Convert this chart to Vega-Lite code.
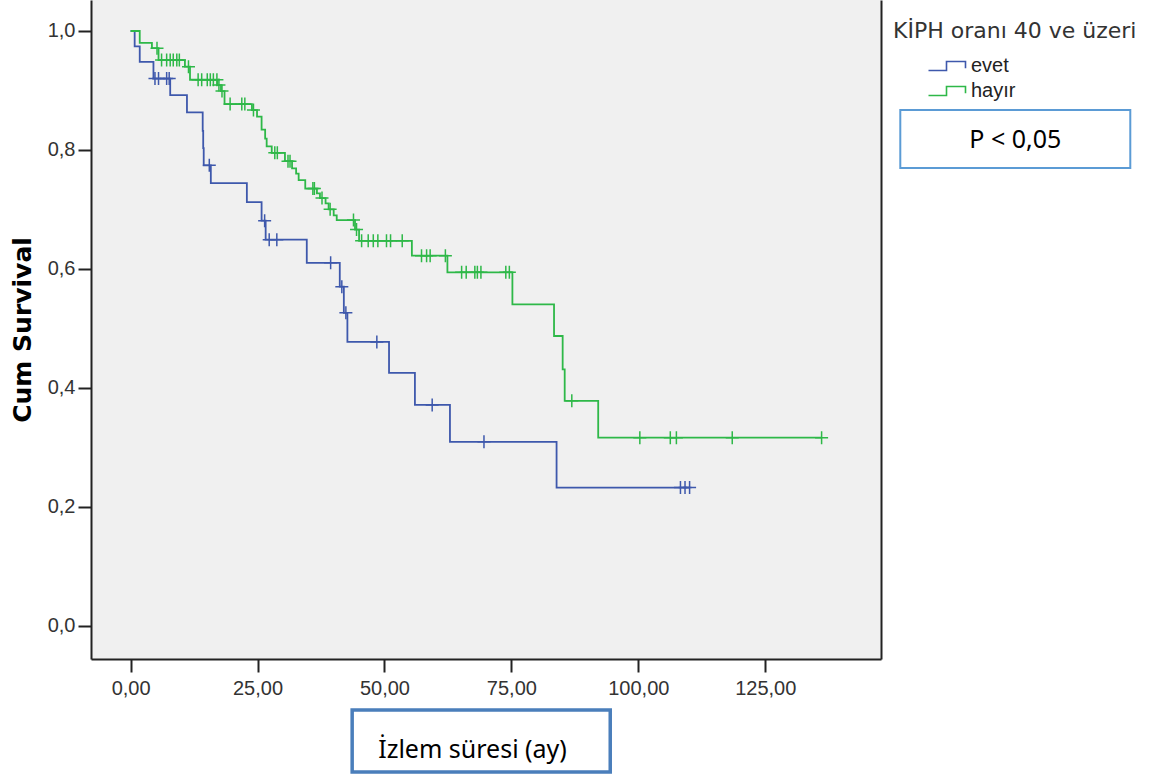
{
  "$schema": "https://vega.github.io/schema/vega-lite/v6.json",
  "autosize": "none",
  "width": 790,
  "height": 659,
  "padding": {"left": 91, "top": 0, "right": 285, "bottom": 116},
  "background": "white",
  "config": {"view": {"fill": "#f0f0f0", "stroke": null}},
  "data": {"values": [
    {"g":"evet","t":0,"s":1,"c":0},
    {"g":"evet","t":0.8,"s":0.974,"c":0},
    {"g":"evet","t":1.8,"s":0.948,"c":0},
    {"g":"evet","t":4.5,"s":0.920,"c":0},
    {"g":"evet","t":4.8,"s":0.920,"c":1},
    {"g":"evet","t":5.5,"s":0.920,"c":1},
    {"g":"evet","t":7.1,"s":0.920,"c":1},
    {"g":"evet","t":7.6,"s":0.920,"c":1},
    {"g":"evet","t":7.8,"s":0.892,"c":0},
    {"g":"evet","t":11.1,"s":0.863,"c":0},
    {"g":"evet","t":14.2,"s":0.832,"c":0},
    {"g":"evet","t":14.3,"s":0.803,"c":0},
    {"g":"evet","t":14.4,"s":0.774,"c":0},
    {"g":"evet","t":15.5,"s":0.774,"c":1},
    {"g":"evet","t":15.8,"s":0.744,"c":0},
    {"g":"evet","t":22.9,"s":0.712,"c":0},
    {"g":"evet","t":25.8,"s":0.681,"c":0},
    {"g":"evet","t":26.4,"s":0.681,"c":1},
    {"g":"evet","t":26.6,"s":0.649,"c":0},
    {"g":"evet","t":27.3,"s":0.649,"c":1},
    {"g":"evet","t":28.8,"s":0.649,"c":1},
    {"g":"evet","t":34.7,"s":0.610,"c":0},
    {"g":"evet","t":39.4,"s":0.610,"c":1},
    {"g":"evet","t":41.2,"s":0.570,"c":0},
    {"g":"evet","t":41.6,"s":0.570,"c":1},
    {"g":"evet","t":42.0,"s":0.526,"c":0},
    {"g":"evet","t":42.4,"s":0.526,"c":1},
    {"g":"evet","t":42.7,"s":0.477,"c":0},
    {"g":"evet","t":48.5,"s":0.477,"c":1},
    {"g":"evet","t":50.9,"s":0.425,"c":0},
    {"g":"evet","t":56.0,"s":0.371,"c":0},
    {"g":"evet","t":59.4,"s":0.371,"c":1},
    {"g":"evet","t":62.9,"s":0.309,"c":0},
    {"g":"evet","t":69.6,"s":0.309,"c":1},
    {"g":"evet","t":83.9,"s":0.232,"c":0},
    {"g":"evet","t":108.3,"s":0.232,"c":1},
    {"g":"evet","t":109.2,"s":0.232,"c":1},
    {"g":"evet","t":110.1,"s":0.232,"c":1},
    {"g":"hayır","t":0,"s":1,"c":0},
    {"g":"hayır","t":1.8,"s":0.980,"c":0},
    {"g":"hayır","t":4.2,"s":0.971,"c":0},
    {"g":"hayır","t":5.2,"s":0.971,"c":1},
    {"g":"hayır","t":5.5,"s":0.951,"c":0},
    {"g":"hayır","t":6.1,"s":0.951,"c":1},
    {"g":"hayır","t":7.1,"s":0.951,"c":1},
    {"g":"hayır","t":7.8,"s":0.951,"c":1},
    {"g":"hayır","t":8.4,"s":0.951,"c":1},
    {"g":"hayır","t":9.1,"s":0.951,"c":1},
    {"g":"hayır","t":9.6,"s":0.951,"c":1},
    {"g":"hayır","t":10.7,"s":0.940,"c":0},
    {"g":"hayır","t":11.4,"s":0.940,"c":1},
    {"g":"hayır","t":11.7,"s":0.918,"c":0},
    {"g":"hayır","t":13.3,"s":0.918,"c":1},
    {"g":"hayır","t":14.0,"s":0.918,"c":1},
    {"g":"hayır","t":15.1,"s":0.918,"c":1},
    {"g":"hayır","t":15.7,"s":0.918,"c":1},
    {"g":"hayır","t":16.3,"s":0.918,"c":1},
    {"g":"hayır","t":17.0,"s":0.918,"c":1},
    {"g":"hayır","t":17.1,"s":0.909,"c":0},
    {"g":"hayır","t":17.4,"s":0.909,"c":1},
    {"g":"hayır","t":17.8,"s":0.899,"c":0},
    {"g":"hayır","t":18.0,"s":0.899,"c":1},
    {"g":"hayır","t":18.5,"s":0.877,"c":0},
    {"g":"hayır","t":19.6,"s":0.877,"c":1},
    {"g":"hayır","t":21.9,"s":0.877,"c":1},
    {"g":"hayır","t":22.5,"s":0.877,"c":1},
    {"g":"hayır","t":23.9,"s":0.867,"c":0},
    {"g":"hayır","t":24.2,"s":0.867,"c":1},
    {"g":"hayır","t":24.9,"s":0.856,"c":0},
    {"g":"hayır","t":25.8,"s":0.834,"c":0},
    {"g":"hayır","t":26.5,"s":0.819,"c":0},
    {"g":"hayır","t":26.8,"s":0.806,"c":0},
    {"g":"hayır","t":27.8,"s":0.795,"c":0},
    {"g":"hayır","t":28.4,"s":0.795,"c":1},
    {"g":"hayır","t":28.9,"s":0.795,"c":1},
    {"g":"hayır","t":30.4,"s":0.781,"c":0},
    {"g":"hayır","t":31.0,"s":0.781,"c":1},
    {"g":"hayır","t":31.4,"s":0.781,"c":1},
    {"g":"hayır","t":31.8,"s":0.769,"c":0},
    {"g":"hayır","t":32.6,"s":0.760,"c":0},
    {"g":"hayır","t":33.1,"s":0.749,"c":0},
    {"g":"hayır","t":34.4,"s":0.735,"c":0},
    {"g":"hayır","t":35.9,"s":0.735,"c":1},
    {"g":"hayır","t":36.2,"s":0.735,"c":1},
    {"g":"hayır","t":36.7,"s":0.727,"c":0},
    {"g":"hayır","t":37.3,"s":0.719,"c":0},
    {"g":"hayır","t":37.7,"s":0.719,"c":1},
    {"g":"hayır","t":38.4,"s":0.710,"c":0},
    {"g":"hayır","t":39.0,"s":0.700,"c":0},
    {"g":"hayır","t":39.3,"s":0.700,"c":1},
    {"g":"hayır","t":40.0,"s":0.690,"c":0},
    {"g":"hayır","t":40.6,"s":0.682,"c":0},
    {"g":"hayır","t":43.9,"s":0.682,"c":1},
    {"g":"hayır","t":44.2,"s":0.666,"c":0},
    {"g":"hayır","t":44.5,"s":0.666,"c":1},
    {"g":"hayır","t":45.0,"s":0.647,"c":0},
    {"g":"hayır","t":45.5,"s":0.647,"c":1},
    {"g":"hayır","t":46.8,"s":0.647,"c":1},
    {"g":"hayır","t":47.8,"s":0.647,"c":1},
    {"g":"hayır","t":48.7,"s":0.647,"c":1},
    {"g":"hayır","t":50.4,"s":0.647,"c":1},
    {"g":"hayır","t":51.2,"s":0.647,"c":1},
    {"g":"hayır","t":53.5,"s":0.647,"c":1},
    {"g":"hayır","t":55.4,"s":0.622,"c":0},
    {"g":"hayır","t":57.3,"s":0.622,"c":1},
    {"g":"hayır","t":58.3,"s":0.622,"c":1},
    {"g":"hayır","t":59.0,"s":0.622,"c":1},
    {"g":"hayır","t":62.0,"s":0.622,"c":1},
    {"g":"hayır","t":62.4,"s":0.594,"c":0},
    {"g":"hayır","t":65.2,"s":0.594,"c":1},
    {"g":"hayır","t":66.1,"s":0.594,"c":1},
    {"g":"hayır","t":67.8,"s":0.594,"c":1},
    {"g":"hayır","t":68.3,"s":0.594,"c":1},
    {"g":"hayır","t":69.0,"s":0.594,"c":1},
    {"g":"hayır","t":73.9,"s":0.594,"c":1},
    {"g":"hayır","t":74.6,"s":0.594,"c":1},
    {"g":"hayır","t":75.2,"s":0.540,"c":0},
    {"g":"hayır","t":83.4,"s":0.487,"c":0},
    {"g":"hayır","t":85.1,"s":0.431,"c":0},
    {"g":"hayır","t":85.5,"s":0.378,"c":0},
    {"g":"hayır","t":86.9,"s":0.378,"c":1},
    {"g":"hayır","t":92.1,"s":0.316,"c":0},
    {"g":"hayır","t":100.3,"s":0.316,"c":1},
    {"g":"hayır","t":106.3,"s":0.316,"c":1},
    {"g":"hayır","t":107.5,"s":0.316,"c":1},
    {"g":"hayır","t":118.5,"s":0.316,"c":1},
    {"g":"hayır","t":136.1,"s":0.316,"c":1}
  ]},
  "layer": [
    {
      "mark": {"type": "line", "interpolate": "step-after", "strokeWidth": 1.8},
      "encoding": {
        "x": {"field": "t", "type": "quantitative",
          "scale": {"domain": [-7.8, 147.8], "nice": false, "zero": false},
          "axis": {"values": [0, 25, 50, 75, 100, 125],
            "labelExpr": "replace(format(datum.value, '.2f'), '.', ',')",
            "title": "İzlem süresi (ay)", "titleFont": "Noto Sans", "titleFontSize": 25,
            "titleFontWeight": "normal", "titleColor": "#000",
            "titleX": 381, "titleY": 98, "titleBaseline": "alphabetic", "titleAlign": "center",
            "labelFont": "Liberation Sans", "labelFontSize": 20, "labelColor": "#333",
            "labelPadding": 6, "labelFlush": false, "tickSize": 13, "tickWidth": 2,
            "tickColor": "#222", "domainColor": "#222", "domainWidth": 2, "grid": false, "zindex": 1}},
        "y": {"field": "s", "type": "quantitative",
          "scale": {"domain": [-0.0563, 1.0521], "nice": false, "zero": false},
          "axis": {"values": [0, 0.2, 0.4, 0.6, 0.8, 1],
            "labelExpr": "replace(format(datum.value, '.1f'), '.', ',')",
            "title": "Cum Survival", "titleFont": "DejaVu Sans", "titleFontSize": 25,
            "titleFontWeight": "bold", "titleColor": "#000", "titlePadding": 12,
            "labelFont": "Liberation Sans", "labelFontSize": 20, "labelColor": "#333",
            "labelPadding": 3, "tickSize": 13, "tickWidth": 2, "tickColor": "#222",
            "domainColor": "#222", "domainWidth": 2, "grid": false, "zindex": 1}},
        "color": {"field": "g", "type": "nominal",
          "scale": {"domain": ["evet", "hayır"], "range": ["#3E58AC", "#2EB848"]},
          "legend": {"title": "KİPH oranı 40 ve üzeri", "orient": "none",
            "legendX": 802, "legendY": 21, "padding": 0, "titleLimit": 400,
            "titleFont": "DejaVu Sans", "titleFontSize": 22, "titleFontWeight": "normal",
            "titleColor": "#333", "titlePadding": 13,
            "labelFont": "Liberation Sans", "labelFontSize": 20, "labelColor": "#222",
            "symbolType": "M-3.7,0.9H-0.1V-0.9H3.7V0.45", "symbolSize": 100,
            "symbolStrokeWidth": 1.6, "symbolOffset": 44, "labelOffset": 14, "rowPadding": 5}}
      }
    },
    {
      "transform": [{"filter": "datum.c == 1"}],
      "mark": {"type": "point", "shape": "M0,-1V1M-1,0H1", "size": 169, "filled": false, "strokeWidth": 1.5, "opacity": 1},
      "encoding": {
        "x": {"field": "t", "type": "quantitative", "scale": {"domain": [-7.8, 147.8], "nice": false, "zero": false}, "axis": null},
        "y": {"field": "s", "type": "quantitative", "scale": {"domain": [-0.0563, 1.0521], "nice": false, "zero": false},
          "axis": {"orient": "right", "labels": false, "ticks": false, "title": null, "grid": false,
            "domainColor": "#222", "domainWidth": 2}},
        "color": {"field": "g", "type": "nominal", "legend": null}
      }
    },
    {
      "data": {"values": [{"label": "P < 0,05"}]},
      "mark": {"type": "rect", "fill": "white", "stroke": "#5B9BD5", "strokeWidth": 2},
      "encoding": {
        "x": {"datum": 151.6, "type": "quantitative", "axis": null},
        "x2": {"datum": 196.9},
        "y": {"datum": 0.8671, "type": "quantitative", "axis": null},
        "y2": {"datum": 0.7696}
      }
    },
    {
      "data": {"values": [{"label": "P < 0,05"}]},
      "mark": {"type": "text", "font": "Noto Sans", "fontSize": 25, "fontWeight": "normal", "fill": "#000", "align": "center", "baseline": "middle"},
      "encoding": {
        "x": {"datum": 174.25, "type": "quantitative", "axis": null},
        "y": {"datum": 0.8167, "type": "quantitative", "axis": null},
        "text": {"field": "label", "type": "nominal"}
      }
    },
    {
      "data": {"values": [{"label": "box"}]},
      "mark": {"type": "rect", "fill": "transparent", "stroke": "#4A7EBB", "strokeWidth": 3.5},
      "encoding": {
        "x": {"datum": 43.64, "type": "quantitative", "axis": null},
        "x2": {"datum": 94.47},
        "y": {"datum": -0.1421, "type": "quantitative", "axis": null},
        "y2": {"datum": -0.2464}
      }
    }
  ],
  "resolve": {"axis": {"x": "independent", "y": "independent"}}
}
